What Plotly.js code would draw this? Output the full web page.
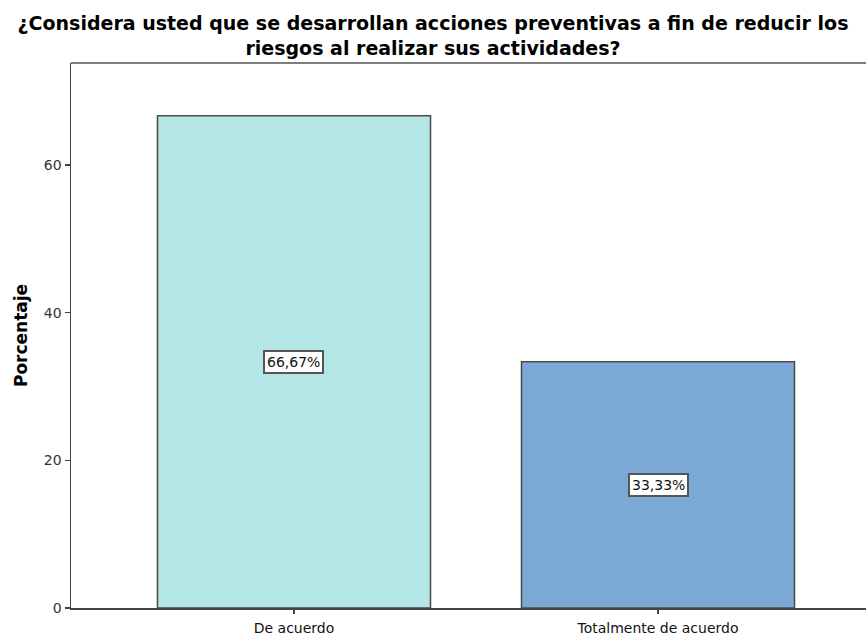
<!DOCTYPE html>
<html>
<head>
<meta charset="utf-8">
<script src="https://cdn.plot.ly/plotly-3.0.1.min.js"></script>
<style>html,body{margin:0;padding:0;background:#fff;}</style>
</head>
<body>
<div id="chart" style="width:866px;height:637px;"></div>
<script>
const categories = ["De acuerdo", "Totalmente de acuerdo"];
const percentages = [66.67, 33.33];
const labels = ["66,67%", "33,33%"];
const barColors = ["#b5e6e6", "#7ba9d5"];
const yTicks = [0, 20, 40, 60];

const FONT = "DejaVu Sans, Verdana, sans-serif";

const trace = {
  type: "bar",
  x: [0, 1],
  y: percentages,
  width: 0.75,
  marker: {color: barColors, line: {color: "#4a4a4a", width: 1.5}},
  hoverinfo: "skip"
};

const annotations = categories.map((c, i) => ({
  x: i, y: percentages[i] / 2, xref: "x", yref: "y",
  text: labels[i], showarrow: false,
  font: {family: FONT, size: 14, color: "#111"},
  bgcolor: "#ffffff", bordercolor: "#555", borderwidth: 2, borderpad: 2
}));

const layout = {
  width: 866, height: 637,
  margin: {l: 71, r: 0, t: 63, b: 29},
  paper_bgcolor: "#ffffff", plot_bgcolor: "#ffffff",
  showlegend: false,
  title: {
    text: "¿Considera usted que se desarrollan acciones preventivas a fin de reducir los<br>riesgos al realizar sus actividades?",
    font: {family: FONT, size: 19, color: "#000", weight: "bold"},
    x: 0.5, xanchor: "center", yref: "container", y: 0.953, yanchor: "middle"
  },
  xaxis: {
    range: [-0.6126, 1.5714],
    tickvals: [0, 1], ticktext: categories,
    ticks: "outside", ticklen: 4, tickwidth: 1.5, tickcolor: "#444",
    ticklabelstandoff: 3,
    showgrid: false, zeroline: false,
    showline: true, linecolor: "#444", linewidth: 1.5,
    tickfont: {family: FONT, size: 14, color: "#111"},
    fixedrange: true
  },
  yaxis: {
    range: [0, 73.8],
    tickvals: yTicks,
    ticks: "outside", ticklen: 5, tickwidth: 1.5, tickcolor: "#444",
    showgrid: false, zeroline: false,
    showline: true, linecolor: "#444", linewidth: 1.5,
    tickfont: {family: FONT, size: 14, color: "#333"},
    title: {text: "Porcentaje", font: {family: FONT, size: 17, color: "#000", weight: "bold"}, standoff: 12},
    fixedrange: true
  },
  shapes: [{type: "line", xref: "paper", yref: "paper", x0: 0, x1: 1, y0: 1, y1: 1, line: {color: "#555", width: 1.5}}],
  annotations: annotations
};

Plotly.newPlot("chart", [trace], layout, {displayModeBar: false, staticPlot: true});
</script>
</body>
</html>
